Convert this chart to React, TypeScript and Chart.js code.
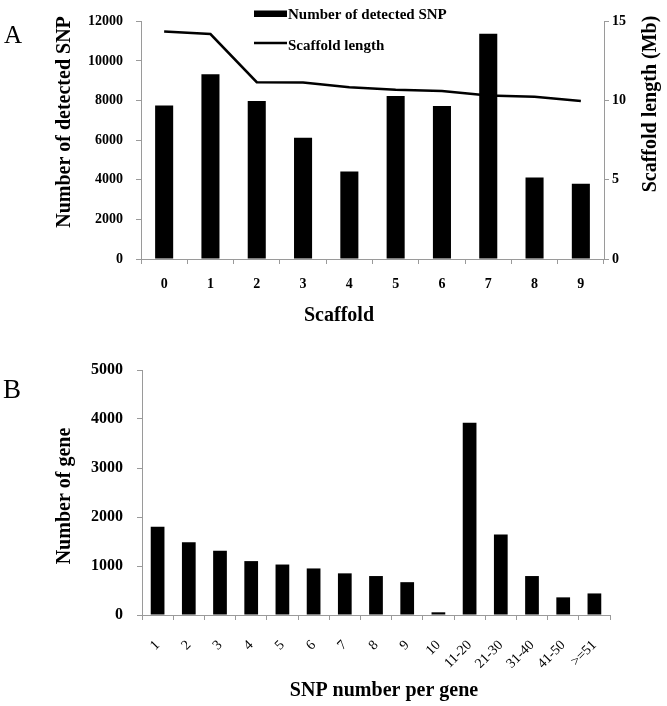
import React, { useEffect, useRef } from 'react';
import { Chart, registerables } from 'chart.js';
Chart.register(...registerables);

const SERIF = '"Liberation Serif", "Times New Roman", serif';

// ---- Panel A data ----
const scaffolds = ['0', '1', '2', '3', '4', '5', '6', '7', '8', '9'];
const snpCounts = [7750, 9330, 7980, 6130, 4420, 8230, 7730, 11370, 4110, 3800];
const scaffoldLengths = [14.37, 14.2, 11.16, 11.15, 10.85, 10.69, 10.6, 10.32, 10.24, 9.98];
const snpAxisMax = 12000;
const snpAxisStep = 2000;
const lengthAxisMax = 15;
const lengthAxisStep = 5;

// ---- Panel B data ----
const snpBins = ['1', '2', '3', '4', '5', '6', '7', '8', '9', '10', '11-20', '21-30', '31-40', '41-50', '>=51'];
const geneCounts = [1800, 1485, 1310, 1100, 1030, 950, 850, 795, 670, 55, 3925, 1645, 795, 360, 440];
const geneAxisMax = 5000;
const geneAxisStep = 1000;

const AXIS_GRAY = '#9a9a9a';
const plainNumber = (v: any) => String(v);

type TextItem = { text: string; x: number; y: number; size: number; bold?: boolean; rotate?: number; align?: CanvasTextAlign };

const textPlugin = (id: string, items: TextItem[], extra?: (ctx: CanvasRenderingContext2D, chart: any) => void) => ({
  id,
  afterDraw(chart: any) {
    const ctx: CanvasRenderingContext2D = chart.ctx;
    ctx.save();
    ctx.fillStyle = '#000';
    ctx.textBaseline = 'middle';
    for (const it of items) {
      ctx.save();
      ctx.translate(it.x, it.y);
      if (it.rotate) ctx.rotate(it.rotate);
      ctx.font = `${it.bold ? 'bold ' : ''}${it.size}px ${SERIF}`;
      ctx.textAlign = it.align || 'center';
      ctx.fillText(it.text, 0, 0);
      ctx.restore();
    }
    if (extra) extra(ctx, chart);
    ctx.restore();
  },
});

export default function App() {
  const refA = useRef<HTMLCanvasElement>(null);
  const refB = useRef<HTMLCanvasElement>(null);

  useEffect(() => {
    Chart.defaults.font.family = SERIF;
    Chart.defaults.color = '#000';

    const legendA = (ctx: CanvasRenderingContext2D, chart: any) => {
      const ds = chart.data.datasets;
      const bar = ds.find((d: any) => d.type === 'bar');
      const line = ds.find((d: any) => d.type === 'line');
      ctx.fillStyle = '#000';
      ctx.fillRect(254, 10.5, 33, 6.5);
      ctx.strokeStyle = '#000';
      ctx.lineWidth = 2.5;
      ctx.beginPath();
      ctx.moveTo(254, 43);
      ctx.lineTo(287, 43);
      ctx.stroke();
      ctx.font = `bold 15px ${SERIF}`;
      ctx.textAlign = 'left';
      ctx.textBaseline = 'middle';
      ctx.fillText(bar.label, 288, 15);
      ctx.fillText(line.label, 288, 46);
    };

    const chartA = new Chart(refA.current as HTMLCanvasElement, {
      type: 'bar',
      data: {
        labels: scaffolds,
        datasets: [
          {
            type: 'bar',
            label: 'Number of detected SNP',
            data: snpCounts,
            backgroundColor: '#000',
            borderWidth: 0,
            barPercentage: 0.39,
            categoryPercentage: 1,
            yAxisID: 'y',
            order: 1,
          },
          {
            type: 'line',
            label: 'Scaffold length',
            data: scaffoldLengths,
            borderColor: '#000',
            borderWidth: 2.5,
            pointRadius: 0,
            tension: 0,
            fill: false,
            yAxisID: 'y1',
            order: 0,
          } as any,
        ],
      },
      options: {
        responsive: false,
        animation: false,
        layout: { padding: { top: 12, left: 0, right: 0, bottom: 0 } },
        plugins: { legend: { display: false }, tooltip: { enabled: false } },
        scales: {
          x: {
            offset: true,
            grid: { display: true, drawOnChartArea: false, drawTicks: true, tickLength: 5, color: AXIS_GRAY, offset: true },
            border: { display: true, color: AXIS_GRAY, width: 1 },
            ticks: { font: { size: 14, weight: 'bold' }, color: '#000', padding: 12, maxRotation: 0 },
            afterFit: (s: any) => { s.height = 76; },
          },
          y: {
            position: 'left',
            min: 0,
            max: snpAxisMax,
            ticks: { stepSize: snpAxisStep, callback: plainNumber, font: { size: 14, weight: 'bold' }, color: '#000', padding: 13 },
            grid: { drawOnChartArea: false, drawTicks: true, tickLength: 5, color: AXIS_GRAY },
            border: { display: true, color: AXIS_GRAY, width: 1 },
            afterFit: (s: any) => { s.width = 141; },
          },
          y1: {
            position: 'right',
            min: 0,
            max: lengthAxisMax,
            ticks: { stepSize: lengthAxisStep, callback: plainNumber, font: { size: 14, weight: 'bold' }, color: '#000', padding: 3 },
            grid: { drawOnChartArea: false, drawTicks: true, tickLength: 5, color: AXIS_GRAY },
            border: { display: true, color: AXIS_GRAY, width: 1 },
            afterFit: (s: any) => { s.width = 63; },
          },
        },
      } as any,
      plugins: [
        textPlugin(
          'textA',
          [
            { text: 'A', x: 13, y: 36, size: 25 },
            { text: 'Number of detected SNP', x: 65, y: 122, size: 20, bold: true, rotate: -Math.PI / 2 },
            { text: 'Scaffold length (Mb)', x: 651, y: 104, size: 20, bold: true, rotate: -Math.PI / 2 },
            { text: 'Scaffold', x: 339, y: 316, size: 20, bold: true },
          ],
          legendA
        ),
      ],
    });

    const chartB = new Chart(refB.current as HTMLCanvasElement, {
      type: 'bar',
      data: {
        labels: snpBins,
        datasets: [
          {
            label: 'Number of gene',
            data: geneCounts,
            backgroundColor: '#000',
            borderWidth: 0,
            barPercentage: 0.44,
            categoryPercentage: 1,
          },
        ],
      },
      options: {
        responsive: false,
        animation: false,
        layout: { padding: { top: 35, left: 0, right: 57, bottom: 0 } },
        plugins: { legend: { display: false }, tooltip: { enabled: false } },
        scales: {
          x: {
            offset: true,
            grid: { display: true, drawOnChartArea: false, drawTicks: true, tickLength: 5, color: AXIS_GRAY, offset: true },
            border: { display: true, color: AXIS_GRAY, width: 1 },
            ticks: { font: { size: 14 }, color: '#000', padding: 17, minRotation: 45, maxRotation: 45, autoSkip: false },
            afterFit: (s: any) => { s.height = 91; },
          },
          y: {
            min: 0,
            max: geneAxisMax,
            ticks: { stepSize: geneAxisStep, callback: plainNumber, font: { size: 16, weight: 'bold' }, color: '#000', padding: 14 },
            grid: { drawOnChartArea: false, drawTicks: true, tickLength: 5, color: AXIS_GRAY },
            border: { display: true, color: AXIS_GRAY, width: 1 },
            afterFit: (s: any) => { s.width = 142; },
          },
        },
      } as any,
      plugins: [
        textPlugin('textB', [
          { text: 'B', x: 12, y: 56, size: 27 },
          { text: 'Number of gene', x: 65, y: 161, size: 20, bold: true, rotate: -Math.PI / 2 },
          { text: 'SNP number per gene', x: 384, y: 356, size: 20, bold: true },
        ]),
      ],
    });

    return () => {
      chartA.destroy();
      chartB.destroy();
    };
  }, []);

  return (
    <div style={{ position: 'absolute', left: 0, top: 0, width: 667, height: 706, background: '#fff' }}>
      <canvas ref={refA} width={667} height={335} style={{ position: 'absolute', left: 0, top: 0 }} />
      <canvas ref={refB} width={667} height={371} style={{ position: 'absolute', left: 0, top: 335 }} />
    </div>
  );
}
